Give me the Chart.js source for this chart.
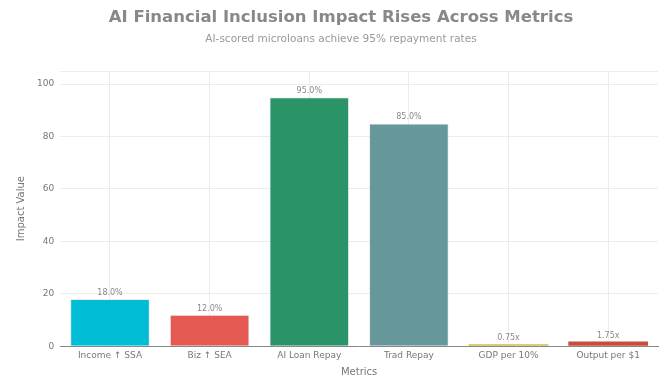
<!DOCTYPE html>
<html>
<head>
<meta charset="utf-8">
<script src="https://cdn.jsdelivr.net/npm/chart.js@4"></script>
<style>
  html, body { margin: 0; padding: 0; background: #fff; }
  #wrap { width: 669px; height: 378px; position: relative; }
</style>
</head>
<body>
<div id="wrap"><canvas id="chart"></canvas></div>
<script>
// Impact metrics and their display labels
const metrics = ['Income \u2191 SSA', 'Biz \u2191 SEA', 'AI Loan Repay', 'Trad Repay', 'GDP per 10%', 'Output per $1'];
const impactValues = [18, 12, 95, 85, 0.75, 1.75];
const valueLabels = ['18.0%', '12.0%', '95.0%', '85.0%', '0.75x', '1.75x'];
const barColors = ['#00bcd4', '#e45a52', '#2a9468', '#66979a', '#d4b84a', '#c94b3a'];

const TITLE = 'AI Financial Inclusion Impact Rises Across Metrics';
const SUBTITLE = 'AI-scored microloans achieve 95% repayment rates';

const TEXT_GRAY = '#777';
const AXIS_FONT = 'DejaVu Sans';

// heading text, drawn slightly right of the canvas centre
const headingPlugin = {
  id: 'heading',
  afterDraw(chart) {
    const ctx = chart.ctx;
    const cx = 341;
    ctx.save();
    ctx.textAlign = 'center';
    ctx.textBaseline = 'middle';
    ctx.fillStyle = '#888';
    ctx.font = 'bold 16.5px "DejaVu Sans"';
    ctx.fillText(TITLE, cx, 18);
    ctx.fillStyle = '#999';
    ctx.font = '10.5px "DejaVu Sans"';
    ctx.fillText(SUBTITLE, cx, 39);
    ctx.restore();
  },
};

// draws the value text above each bar
const valueLabelPlugin = {
  id: 'valueLabels',
  afterDatasetsDraw(chart) {
    const ctx = chart.ctx;
    const meta = chart.getDatasetMeta(0);
    ctx.save();
    ctx.font = '8px "DejaVu Sans"';
    ctx.fillStyle = '#888';
    ctx.textAlign = 'center';
    ctx.textBaseline = 'bottom';
    meta.data.forEach((bar, i) => {
      ctx.fillText(valueLabels[i], bar.x, bar.y - 2);
    });
    ctx.restore();
  },
};

new Chart(document.getElementById('chart'), {
  type: 'bar',
  data: {
    labels: metrics,
    datasets: [{
      label: 'Impact Value',
      data: impactValues,
      backgroundColor: barColors,
      borderColor: 'rgba(225, 225, 225, 0.6)',
      // thin bars would be swallowed by the outline
      borderWidth: ctx => (ctx.raw < 3 ? 0 : 1),
      borderSkipped: 'bottom',
      barPercentage: 0.8,
      categoryPercentage: 1.0,
    }],
  },
  options: {
    responsive: true,
    maintainAspectRatio: false,
    animation: false,
    layout: { padding: { left: 15, right: 11, top: 71, bottom: 0 } },
    plugins: {
      legend: { display: false },
      tooltip: { enabled: false },
    },
    scales: {
      x: {
        grid: { color: '#ececec', offset: false, drawTicks: false },
        border: { color: '#888', width: 1 },
        ticks: { color: TEXT_GRAY, font: { family: AXIS_FONT, size: 9 }, padding: 4 },
        title: { display: true, text: 'Metrics', color: TEXT_GRAY, font: { family: AXIS_FONT, size: 10 }, padding: { top: 1, bottom: 0 } },
      },
      y: {
        min: 0,
        max: 105,
        grid: { color: '#ececec', drawTicks: false },
        border: { display: false },
        ticks: {
          stepSize: 20,
          color: TEXT_GRAY,
          font: { family: AXIS_FONT, size: 9 },
          padding: 6,
          callback: v => (v % 20 === 0 ? v : ''),
        },
        title: { display: true, text: 'Impact Value', color: TEXT_GRAY, font: { family: AXIS_FONT, size: 10 }, padding: { top: 0, bottom: 4 } },
      },
    },
  },
  plugins: [valueLabelPlugin, headingPlugin],
});
</script>
</body>
</html>
